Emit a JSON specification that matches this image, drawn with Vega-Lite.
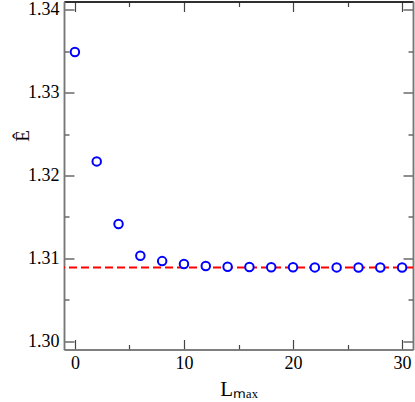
{
  "$schema": "https://vega.github.io/schema/vega-lite/v6.json",
  "width": 349,
  "height": 348,
  "autosize": {"type": "none"},
  "padding": {"left": 64, "top": 1.5, "right": 2, "bottom": 52.5},
  "background": "white",
  "config": {
    "view": {"stroke": null},
    "style": {
      "guide-label": {"font": "Liberation Serif", "fontSize": 18, "fill": "black"},
      "guide-title": {"font": "Liberation Serif", "fontSize": 20, "fill": "black", "fontWeight": "normal"}
    },
    "axis": {
      "labelFont": "Liberation Serif",
      "titleFont": "Liberation Serif",
      "labelFontSize": 18,
      "titleFontSize": 20,
      "labelColor": "black",
      "titleColor": "black",
      "titleFontWeight": "normal",
      "domainColor": "#777777",
      "tickColor": "#444444",
      "domainWidth": 1.5,
      "tickWidth": 1.2,
      "grid": false
    }
  },
  "data": {
    "values": [
      {"L": 0, "E": 1.3349},
      {"L": 2, "E": 1.3217},
      {"L": 4, "E": 1.31415},
      {"L": 6, "E": 1.31032},
      {"L": 8, "E": 1.30967},
      {"L": 10, "E": 1.30931},
      {"L": 12, "E": 1.30907},
      {"L": 14, "E": 1.30899},
      {"L": 16, "E": 1.30895},
      {"L": 18, "E": 1.30893},
      {"L": 20, "E": 1.30892},
      {"L": 22, "E": 1.30891},
      {"L": 24, "E": 1.30891},
      {"L": 26, "E": 1.3089},
      {"L": 28, "E": 1.3089},
      {"L": 30, "E": 1.3089}
    ]
  },
  "resolve": {"axis": {"x": "independent", "y": "independent"}},
  "layer": [
    {
      "data": {"values": [{"ref": 1.3089}]},
      "mark": {"type": "rule", "color": "#ff0000", "strokeWidth": 2, "strokeDash": [8, 4], "opacity": 1},
      "encoding": {
        "y": {"field": "ref", "type": "quantitative", "scale": {"domain": [1.299, 1.341], "nice": false, "zero": false},
          "axis": {"orient": "left", "values": [1.30, 1.31, 1.32, 1.33, 1.34], "format": ".2f", "tickSize": -10, "labelPadding": 15, "labelFont": "Liberation Serif", "labelFontSize": 18, "title": "Ê", "titleAngle": -90, "titleFont": "Liberation Serif", "titleFontSize": 19, "titleX": -36, "titleY": 134, "titleBaseline": "alphabetic", "titleAlign": "center"}}
      }
    },
    {
      "mark": {"type": "point", "shape": "circle", "filled": false, "fill": "white", "fillOpacity": 1, "stroke": "#0000ff", "strokeWidth": 2, "size": 72, "opacity": 1},
      "encoding": {
        "x": {"field": "L", "type": "quantitative", "scale": {"domain": [-1, 31], "nice": false},
          "axis": {"orient": "bottom", "values": [0, 10, 20, 30], "tickSize": -10, "labelPadding": 15, "labelFont": "Liberation Serif", "labelFontSize": 18, "title": "Lₘₐₓ", "titleFont": "Liberation Serif", "titleFontSize": 21, "titlePadding": 6}},
        "y": {"field": "E", "type": "quantitative",
          "axis": {"orient": "right", "values": [1.30, 1.31, 1.32, 1.33, 1.34], "tickSize": -10, "labels": false, "title": null}}
      }
    },
    {
      "mark": {"type": "point", "opacity": 0},
      "encoding": {
        "x": {"field": "L", "type": "quantitative",
          "axis": {"orient": "top", "values": [0, 10, 20, 30], "tickSize": -10, "labels": false, "title": null, "domainColor": "#222222"}},
        "y": {"field": "E", "type": "quantitative",
          "axis": {"orient": "left", "values": [1.305, 1.315, 1.325, 1.335], "tickSize": -5, "labels": false, "title": null}}
      }
    },
    {
      "mark": {"type": "point", "opacity": 0},
      "encoding": {
        "x": {"field": "L", "type": "quantitative",
          "axis": {"orient": "bottom", "values": [5, 15, 25], "tickSize": -5, "labels": false, "title": null}},
        "y": {"field": "E", "type": "quantitative",
          "axis": {"orient": "right", "values": [1.305, 1.315, 1.325, 1.335], "tickSize": -5, "labels": false, "title": null}}
      }
    },
    {
      "mark": {"type": "point", "opacity": 0},
      "encoding": {
        "x": {"field": "L", "type": "quantitative",
          "axis": {"orient": "top", "values": [5, 15, 25], "tickSize": -5, "labels": false, "title": null, "domainColor": "#222222"}}
      }
    }
  ]
}
